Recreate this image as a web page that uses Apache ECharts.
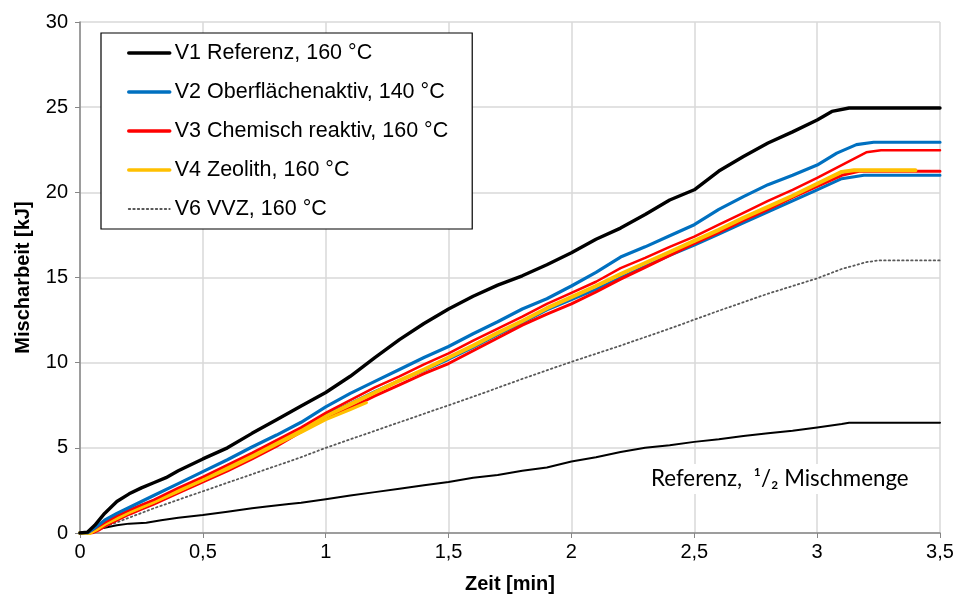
<!DOCTYPE html>
<html>
<head>
<meta charset="utf-8">
<script src="https://cdn.jsdelivr.net/npm/echarts@6/dist/echarts.min.js"></script>
<style>
  html, body { margin: 0; padding: 0; background: #fff; }
  #chart { width: 958px; height: 601px; }
</style>
</head>
<body>
<div id="chart"></div>
<script>
// Zeit [min] und Mischarbeit [kJ] je Versuch
const tV1 = [0, 0.03, 0.06, 0.1, 0.15, 0.2, 0.25, 0.3, 0.35, 0.4, 0.5, 0.6, 0.7, 0.8, 0.9, 1.0, 1.1, 1.2, 1.3, 1.4, 1.5, 1.6, 1.7, 1.8, 1.9, 2.0, 2.1, 2.2, 2.3, 2.4, 2.5, 2.6, 2.7, 2.8, 2.9, 3.0, 3.06, 3.13, 3.5];
const wV1 = [0, 0.05, 0.45, 1.15, 1.85, 2.3, 2.65, 2.95, 3.25, 3.65, 4.35, 5.0, 5.85, 6.65, 7.45, 8.25, 9.2, 10.3, 11.35, 12.3, 13.15, 13.9, 14.55, 15.1, 15.75, 16.45, 17.25, 17.9, 18.7, 19.55, 20.15, 21.25, 22.1, 22.9, 23.55, 24.25, 24.75, 24.95, 24.95];

const tV2a = [0, 0.03, 0.06, 0.1, 0.15, 0.2, 0.25, 0.3, 0.4, 0.5, 0.6, 0.7, 0.8, 0.9, 1.0, 1.1, 1.2, 1.3, 1.4, 1.5, 1.6, 1.7, 1.8, 1.9, 2.0, 2.1, 2.2, 2.3, 2.4, 2.5, 2.6, 2.7, 2.8, 2.9, 3.0, 3.08, 3.16, 3.23, 3.5];
const wV2a = [0, 0, 0.3, 0.75, 1.15, 1.5, 1.85, 2.2, 2.9, 3.6, 4.3, 5.05, 5.75, 6.5, 7.4, 8.2, 8.9, 9.6, 10.3, 10.95, 11.7, 12.4, 13.15, 13.75, 14.5, 15.3, 16.2, 16.8, 17.45, 18.1, 19.0, 19.75, 20.45, 21.0, 21.6, 22.3, 22.8, 22.94, 22.94];

const tV2b = [0, 0.04, 0.07, 0.1, 0.15, 0.2, 0.25, 0.3, 0.4, 0.5, 0.6, 0.7, 0.8, 0.9, 1.0, 1.1, 1.2, 1.3, 1.4, 1.5, 1.6, 1.7, 1.8, 1.9, 2.0, 2.1, 2.2, 2.3, 2.4, 2.5, 2.6, 2.7, 2.8, 2.9, 3.0, 3.1, 3.19, 3.5];
const wV2b = [0, 0, 0.3, 0.6, 0.95, 1.3, 1.6, 1.9, 2.5, 3.15, 3.85, 4.55, 5.3, 6.1, 6.95, 7.6, 8.3, 8.95, 9.55, 10.2, 10.9, 11.65, 12.35, 13.1, 13.7, 14.3, 15.0, 15.65, 16.3, 16.9, 17.55, 18.2, 18.85, 19.5, 20.15, 20.8, 21.0, 21.0];

const tV3a = [0, 0.03, 0.06, 0.1, 0.15, 0.2, 0.25, 0.3, 0.4, 0.5, 0.6, 0.7, 0.8, 0.9, 1.0, 1.1, 1.2, 1.3, 1.4, 1.5, 1.6, 1.7, 1.8, 1.9, 2.0, 2.1, 2.2, 2.3, 2.4, 2.5, 2.6, 2.7, 2.8, 2.9, 3.0, 3.1, 3.2, 3.26, 3.5];
const wV3a = [0, 0, 0.25, 0.6, 1.0, 1.35, 1.65, 1.95, 2.65, 3.3, 4.0, 4.7, 5.45, 6.2, 7.05, 7.8, 8.55, 9.2, 9.9, 10.55, 11.3, 12.0, 12.7, 13.45, 14.1, 14.75, 15.55, 16.15, 16.8, 17.4, 18.1, 18.8, 19.5, 20.15, 20.85, 21.6, 22.35, 22.47, 22.47];

const tV3b = [0, 0.05, 0.08, 0.1, 0.15, 0.2, 0.25, 0.3, 0.4, 0.5, 0.6, 0.7, 0.8, 0.9, 1.0, 1.1, 1.2, 1.3, 1.4, 1.5, 1.6, 1.7, 1.8, 1.9, 2.0, 2.1, 2.2, 2.3, 2.4, 2.5, 2.6, 2.7, 2.8, 2.9, 3.0, 3.1, 3.17, 3.5];
const wV3b = [0, 0, 0.2, 0.4, 0.75, 1.1, 1.4, 1.7, 2.35, 3.0, 3.65, 4.35, 5.1, 5.95, 6.8, 7.35, 8.05, 8.7, 9.35, 9.95, 10.7, 11.45, 12.2, 12.85, 13.45, 14.15, 14.9, 15.6, 16.3, 17.0, 17.65, 18.35, 19.0, 19.7, 20.35, 21.0, 21.24, 21.24];

const tV4a = [0, 0.04, 0.06, 0.1, 0.15, 0.2, 0.25, 0.3, 0.4, 0.5, 0.6, 0.7, 0.8, 0.9, 1.0, 1.1, 1.2, 1.3, 1.4, 1.5, 1.6, 1.7, 1.8, 1.9, 2.0, 2.1, 2.2, 2.3, 2.4, 2.5, 2.6, 2.7, 2.8, 2.9, 3.0, 3.1, 3.15, 3.4];
const wV4a = [0, 0, 0.2, 0.55, 0.9, 1.25, 1.55, 1.85, 2.5, 3.15, 3.85, 4.55, 5.3, 6.05, 6.85, 7.55, 8.25, 8.95, 9.6, 10.3, 11.0, 11.75, 12.45, 13.2, 13.85, 14.5, 15.2, 15.85, 16.5, 17.15, 17.8, 18.5, 19.15, 19.8, 20.5, 21.2, 21.3, 21.3];

const tV4b = [0, 0.04, 0.07, 0.1, 0.2, 0.3, 0.4, 0.5, 0.6, 0.7, 0.8, 0.9, 1.0, 1.1, 1.166];
const wV4b = [0, 0, 0.2, 0.5, 1.2, 1.8, 2.45, 3.1, 3.75, 4.45, 5.2, 5.9, 6.65, 7.25, 7.65];

const tV6 = [0, 0.05, 0.1, 0.2, 0.3, 0.4, 0.5, 0.6, 0.7, 0.8, 0.9, 1.0, 1.2, 1.4, 1.6, 1.8, 2.0, 2.2, 2.4, 2.6, 2.8, 3.0, 3.1, 3.2, 3.25, 3.5];
const wV6 = [0, 0, 0.35, 0.9, 1.45, 1.95, 2.45, 2.95, 3.45, 3.95, 4.45, 5.0, 6.0, 7.0, 8.0, 9.05, 10.05, 11.0, 12.0, 13.05, 14.05, 14.95, 15.5, 15.9, 16.0, 16.0];

const tHalb = [0, 0.05, 0.08, 0.15, 0.2, 0.27, 0.33, 0.4, 0.5, 0.6, 0.7, 0.76, 0.85, 0.9, 1.0, 1.1, 1.2, 1.3, 1.4, 1.5, 1.6, 1.7, 1.8, 1.9, 2.0, 2.1, 2.2, 2.3, 2.4, 2.5, 2.6, 2.7, 2.8, 2.9, 3.0, 3.1, 3.13, 3.5];
const wHalb = [0, 0.05, 0.25, 0.45, 0.55, 0.6, 0.75, 0.9, 1.05, 1.25, 1.45, 1.55, 1.7, 1.78, 1.98, 2.2, 2.4, 2.6, 2.8, 3.0, 3.25, 3.4, 3.65, 3.85, 4.2, 4.45, 4.75, 5.0, 5.15, 5.35, 5.5, 5.7, 5.85, 6.0, 6.2, 6.4, 6.47, 6.47];

const legendNames = [
  'V1 Referenz, 160 °C',
  'V2 Oberflächenaktiv, 140 °C',
  'V3 Chemisch reaktiv, 160 °C',
  'V4 Zeolith, 160 °C',
  'V6 VVZ, 160 °C'
];
const halbName = 'Referenz, ½ Mischmenge';
const annotationText = 'Referenz,  ¹/₂ Mischmenge';

const xTicks = { min: 0, max: 3.5, interval: 0.5 };
const yTicks = { min: 0, max: 30, interval: 5 };

const zip = (t, w) => t.map((x, i) => [x, w[i]]);

const BLACK = '#000000', BLUE = '#0070C0', RED = '#FF0000', YELLOW = '#FFC000', GREY = '#595959';
const baseFont = "'Liberation Sans', Arial, sans-serif";

function line(name, t, w, color, width, type) {
  return {
    name: name,
    type: 'line',
    data: zip(t, w),
    showSymbol: false,
    symbol: 'none',
    smooth: false,
    animation: false,
    lineStyle: { color: color, width: width, type: type || 'solid', cap: 'round', join: 'round' },
    itemStyle: { color: color },
    emphasis: { disabled: true }
  };
}

// legend strokes: solid entries drawn bold, the VVZ entry stays dotted
const legendData = legendNames.map((n, i) => ({
  name: n,
  lineStyle: i === 4 ? { width: 1.8, type: [1.5, 3] } : { width: 3.5 }
}));

const chart = echarts.init(document.getElementById('chart'), null, { renderer: 'canvas' });

chart.setOption({
  animation: false,
  backgroundColor: '#ffffff',
  grid: { left: 80, right: 18, top: 22, bottom: 68 },
  xAxis: {
    type: 'value',
    min: xTicks.min, max: xTicks.max, interval: xTicks.interval,
    name: 'Zeit [min]',
    nameLocation: 'middle',
    nameGap: 41,
    nameTextStyle: { fontFamily: baseFont, fontSize: 20, fontWeight: 'bold', color: '#000' },
    axisLine: { show: true, onZero: false, lineStyle: { color: '#868686', width: 1.5 } },
    axisTick: { show: true, length: 5, lineStyle: { color: '#868686' } },
    axisLabel: {
      fontFamily: baseFont, fontSize: 20, color: '#000', margin: 9,
      formatter: v => String(v).replace('.', ',')
    },
    splitLine: { show: true, lineStyle: { color: '#D9D9D9', width: 1.5 } }
  },
  yAxis: {
    type: 'value',
    min: yTicks.min, max: yTicks.max, interval: yTicks.interval,
    name: 'Mischarbeit [kJ]',
    nameLocation: 'middle',
    nameGap: 47,
    nameRotate: 90,
    nameTextStyle: { fontFamily: baseFont, fontSize: 20, fontWeight: 'bold', color: '#000' },
    axisLine: { show: true, lineStyle: { color: '#868686', width: 1.5 } },
    axisTick: { show: true, length: 5, lineStyle: { color: '#868686' } },
    axisLabel: { fontFamily: baseFont, fontSize: 20, color: '#000', margin: 12 },
    splitLine: { show: true, lineStyle: { color: '#D9D9D9', width: 1.5 } }
  },
  legend: {
    data: legendData,
    orient: 'vertical',
    left: 101,
    top: 33,
    padding: [9, 24, 9, 26],
    itemWidth: 41,
    itemHeight: 14,
    itemGap: 17,
    backgroundColor: '#ffffff',
    borderColor: '#000000',
    borderWidth: 1.2,
    selectedMode: false,
    itemStyle: { opacity: 0 },
    textStyle: { fontFamily: baseFont, fontSize: 21.5, color: '#000' }
  },
  graphic: [{
    type: 'text',
    left: 645,
    top: 464,
    z: 5,
    style: {
      text: annotationText,
      fontFamily: 'Lato, sans-serif',
      fontSize: 22.3,
      fill: '#000',
      backgroundColor: '#ffffff',
      padding: [4, 6]
    }
  }],
  series: [
    line(halbName, tHalb, wHalb, BLACK, 2),
    line(legendNames[4], tV6, wV6, GREY, 1.8, [1.5, 3]),
    line(legendNames[1], tV2b, wV2b, BLUE, 3),
    line(legendNames[2], tV3b, wV3b, RED, 3),
    line(legendNames[3], tV4b, wV4b, YELLOW, 3),
    line(legendNames[3], tV4a, wV4a, YELLOW, 4),
    line(legendNames[2], tV3a, wV3a, RED, 2.5),
    line(legendNames[1], tV2a, wV2a, BLUE, 3.2),
    line(legendNames[0], tV1, wV1, BLACK, 3.4)
  ]
});
</script>
</body>
</html>
